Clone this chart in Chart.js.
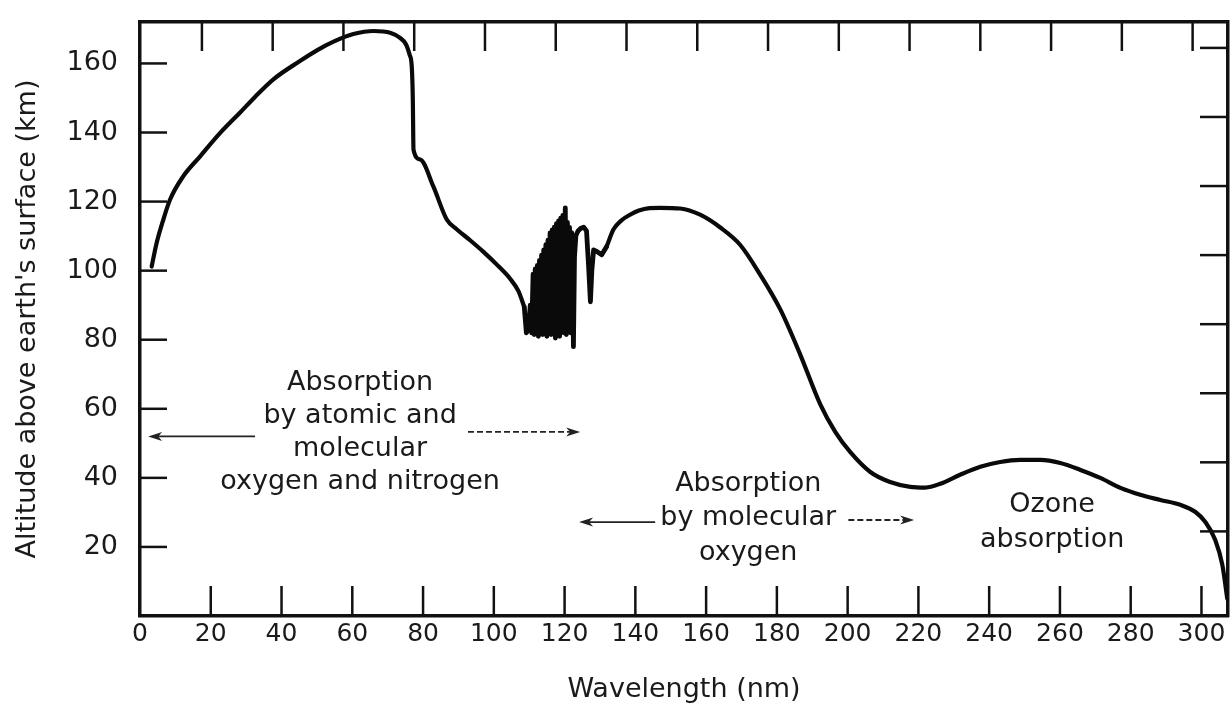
<!DOCTYPE html>
<html>
<head>
<meta charset="utf-8">
<title>Altitude of absorption vs wavelength</title>
<script src="https://cdn.jsdelivr.net/npm/chart.js@4.4.1/dist/chart.umd.min.js"></script>
<style>
  html, body { margin: 0; padding: 0; background: #fff; }
  canvas { display: block; }
</style>
</head>
<body>
<canvas id="chart" width="1232" height="707"></canvas>
<script>
// wavelength (nm) and altitude (km)
const wavelengths = [
  3.3, 4.7, 6.6, 8.5, 12.2, 17.0, 22.6, 28.3, 32.5, 37.7, 45.2, 50.0, 54.7, 60.3, 66.0, 70.7, 73.5, 75.2, 76.2, 76.8,
  77.1, 77.3, 79.2, 82.9, 86.7, 89.5, 93.3, 97.0, 101.0, 104.5, 107.0, 108.6,
  109.2, 109.8, 110.3, 110.7, 111.1, 111.4, 111.7, 112.0, 112.3, 112.6, 112.9, 113.2, 113.5, 113.8, 114.1, 114.4,
  114.7, 115.0, 115.3, 115.6, 115.9, 116.2, 116.5, 116.8, 117.1, 117.4, 117.7, 118.0, 118.3, 118.6, 118.9, 119.2,
  119.5, 119.8, 120.2, 120.5, 120.8, 121.1, 121.4, 121.7, 122.0, 122.3, 122.5, 122.8, 123.2, 123.8, 124.6, 125.4,
  126.2, 126.8, 127.3, 127.7, 128.2, 129.2, 130.5, 131.9,
  133.8, 136.0, 138.5, 141.0, 144.0, 147.0, 152.7, 158.3, 164.0, 169.6, 175.3, 181.0, 186.6, 192.3, 196.5, 200.7,
  206.4, 212.0, 217.7, 222.0, 226.2, 231.8, 237.5, 243.1, 248.8, 254.5, 260.1, 265.8, 271.4, 277.1, 282.7, 288.4,
  294.0, 298.3, 301.1, 303.9, 305.9, 307.3
];
const altitudes = [
  101.2, 108.0, 114.8, 120.6, 127.3, 133.1, 139.8, 145.8, 150.3, 155.4, 160.7, 163.8, 166.3, 168.5, 169.4, 168.9, 167.4, 165.5, 162.5, 159.2,
  150.0, 135.0, 132.2, 124.4, 114.8, 112.0, 108.8, 105.5, 101.6, 97.8, 94.0, 89.5,
  82.0, 83.0, 90.0, 82.0, 99.0, 81.5, 100.5, 82.5, 101.5, 81.0, 103.0, 83.0, 104.5, 81.5, 106.0, 82.5,
  107.5, 81.0, 108.8, 83.0, 110.9, 81.5, 111.8, 82.5, 112.6, 80.5, 113.6, 82.0, 114.4, 81.0, 115.2, 83.0,
  116.0, 82.0, 118.2, 81.5, 114.0, 84.0, 112.5, 82.0, 111.0, 95.0, 78.0, 104.0, 110.2, 111.5, 112.3, 112.6,
  111.5, 101.0, 91.0, 100.0, 106.0, 105.5, 104.6, 107.0,
  111.9, 114.5, 116.2, 117.4, 118.1, 118.2, 118.0, 116.2, 112.5, 107.5, 98.8, 88.7, 75.7, 61.2, 53.3, 47.5,
  41.7, 38.8, 37.4, 37.2, 38.3, 40.9, 43.2, 44.6, 45.2, 45.2, 44.3, 42.3, 40.0, 37.1, 35.1, 33.6,
  32.2, 30.1, 27.2, 22.0, 14.8, 5.0
];
// the jagged band is drawn with straight segments, the rest smoothed
const jaggedFrom = 108.6;
const jaggedTo = 131.9;

const wavelengthTicks = [0, 20, 40, 60, 80, 100, 120, 140, 160, 180, 200, 220, 240, 260, 280, 300];
const topTicks = [17.5, 37.5, 57.5, 77.5, 97.5, 117.5, 137.5, 157.5, 177.5, 197.5, 217.5, 237.5, 257.5, 277.5, 297.5];
const altitudeTicks = [20, 40, 60, 80, 100, 120, 140, 160];
const rightTicks = [24.5, 44.5, 64.5, 84.5, 104.5, 124.5, 144.5, 164.5];

// text blocks and arrows, anchored in data units
const notes = [
  { x: 62.2, y: 67.5, gap: 33, lines: ['Absorption', 'by atomic and', 'molecular', 'oxygen and nitrogen'] },
  { x: 171.9, y: 38.3, gap: 34.5, lines: ['Absorption', 'by molecular', 'oxygen'] },
  { x: 257.8, y: 32.2, gap: 35, lines: ['Ozone', 'absorption'] }
];
const arrows = [
  { from: 32.5, to: 2.3, y: 52.0, dashed: false },
  { from: 92.7, to: 124.4, y: 53.3, dashed: true },
  { from: 145.6, to: 124.1, y: 27.2, dashed: false },
  { from: 200.2, to: 218.8, y: 27.8, dashed: true }
];

const FONT = '"DejaVu Sans", "Liberation Sans", sans-serif';
const INK = '#111';

const inwardTicks = {
  id: 'inwardTicks',
  afterDraw(chart) {
    const { ctx, chartArea: a, scales } = chart;
    const sides = { x: 30, xTop: 29, y: 27, yRight: 28 };
    ctx.save();
    ctx.strokeStyle = INK;
    ctx.lineWidth = 2.5;
    Object.keys(sides).forEach(id => {
      const s = scales[id];
      const len = sides[id];
      s.ticks.forEach(t => {
        const p = s.getPixelForValue(t.value);
        ctx.beginPath();
        if (id === 'x') {
          if (p <= a.left + 2) return;
          ctx.moveTo(p, a.bottom); ctx.lineTo(p, a.bottom - len);
        } else if (id === 'xTop') {
          ctx.moveTo(p, a.top); ctx.lineTo(p, a.top + len);
        } else if (id === 'y') {
          ctx.moveTo(a.left, p); ctx.lineTo(a.left + len, p);
        } else {
          ctx.moveTo(a.right, p); ctx.lineTo(a.right - len, p);
        }
        ctx.stroke();
      });
    });
    ctx.restore();
  }
};

const labels = {
  id: 'labels',
  afterDraw(chart) {
    const { ctx, scales: { x, y } } = chart;
    ctx.save();
    ctx.fillStyle = '#1a1a1a';
    ctx.font = '27px ' + FONT;
    ctx.textAlign = 'center';
    ctx.textBaseline = 'middle';
    notes.forEach(n => {
      const px = x.getPixelForValue(n.x);
      const py = y.getPixelForValue(n.y);
      n.lines.forEach((line, i) => ctx.fillText(line, px, py + i * n.gap));
    });

    ctx.strokeStyle = '#222';
    ctx.fillStyle = '#222';
    ctx.lineWidth = 1.8;
    arrows.forEach(ar => {
      const x1 = x.getPixelForValue(ar.from);
      const x2 = x.getPixelForValue(ar.to);
      const py = y.getPixelForValue(ar.y);
      const dir = Math.sign(x2 - x1);
      ctx.setLineDash(ar.dashed ? [6, 3] : []);
      ctx.beginPath();
      ctx.moveTo(x1, py);
      ctx.lineTo(x2 - dir * 8, py);
      ctx.stroke();
      ctx.setLineDash([]);
      ctx.beginPath();
      ctx.moveTo(x2, py);
      ctx.lineTo(x2 - dir * 14, py - 4.5);
      ctx.lineTo(x2 - dir * 10, py);
      ctx.lineTo(x2 - dir * 14, py + 4.5);
      ctx.closePath();
      ctx.fill();
    });
    ctx.restore();
  }
};

const points = wavelengths.map((w, i) => ({ x: w, y: altitudes[i] }));
const part = (lo, hi) => points.filter(p => p.x >= lo && p.x <= hi);
const curve = (data, smooth, width) => ({
  data,
  showLine: true,
  borderColor: '#0a0a0a',
  borderWidth: width,
  borderJoinStyle: 'round',
  borderCapStyle: 'round',
  cubicInterpolationMode: smooth ? 'monotone' : 'default',
  tension: 0,
  pointRadius: 0,
  fill: false
});

const setTicks = values => scale => { scale.ticks = values.map(v => ({ value: v })); };
const border = { display: true, width: 3.5, color: INK };
const noGrid = { display: false, drawTicks: false };
const noPad = s => { s.paddingTop = 0; s.paddingBottom = 0; s.paddingLeft = 0; s.paddingRight = 0; };

new Chart(document.getElementById('chart'), {
  type: 'scatter',
  data: {
    datasets: [
      curve(part(0, jaggedFrom), true, 4.2),
      curve(part(jaggedFrom, jaggedTo), false, 4.8),
      curve(part(jaggedTo, 400), true, 4.2)
    ]
  },
  options: {
    responsive: false,
    animation: false,
    devicePixelRatio: 1,
    layout: { padding: 0 },
    plugins: { legend: { display: false }, tooltip: { enabled: false } },
    scales: {
      x: {
        type: 'linear', position: 'bottom', min: 0, max: 307.5,
        afterBuildTicks: setTicks(wavelengthTicks),
        afterFit: s => { noPad(s); s.height = 91; },
        grid: noGrid, border,
        ticks: { color: '#1a1a1a', padding: 3, maxRotation: 0, autoSkip: false, font: { family: FONT, size: 25 } },
        title: { display: true, text: 'Wavelength (nm)', color: '#1a1a1a', padding: { top: 0, bottom: 1 }, font: { family: FONT, size: 27 } }
      },
      xTop: {
        type: 'linear', axis: 'x', position: 'top', min: 0, max: 307.5,
        afterBuildTicks: setTicks(topTicks),
        afterFit: s => { noPad(s); s.height = 22; },
        grid: noGrid, border,
        ticks: { display: false }
      },
      y: {
        type: 'linear', position: 'left', min: 0, max: 172,
        afterBuildTicks: setTicks(altitudeTicks),
        afterFit: s => { noPad(s); s.width = 140; },
        grid: noGrid, border,
        ticks: { color: '#1a1a1a', padding: 22, autoSkip: false, font: { family: FONT, size: 27 } },
        title: { display: true, text: "Altitude above earth's surface (km)", color: '#1a1a1a', padding: { top: 12, bottom: 0 }, font: { family: FONT, size: 27 } }
      },
      yRight: {
        type: 'linear', axis: 'y', position: 'right', min: 0, max: 172,
        afterBuildTicks: setTicks(rightTicks),
        afterFit: s => { noPad(s); s.width = 4; },
        grid: noGrid, border,
        ticks: { display: false }
      }
    }
  },
  plugins: [inwardTicks, labels]
});
</script>
</body>
</html>
